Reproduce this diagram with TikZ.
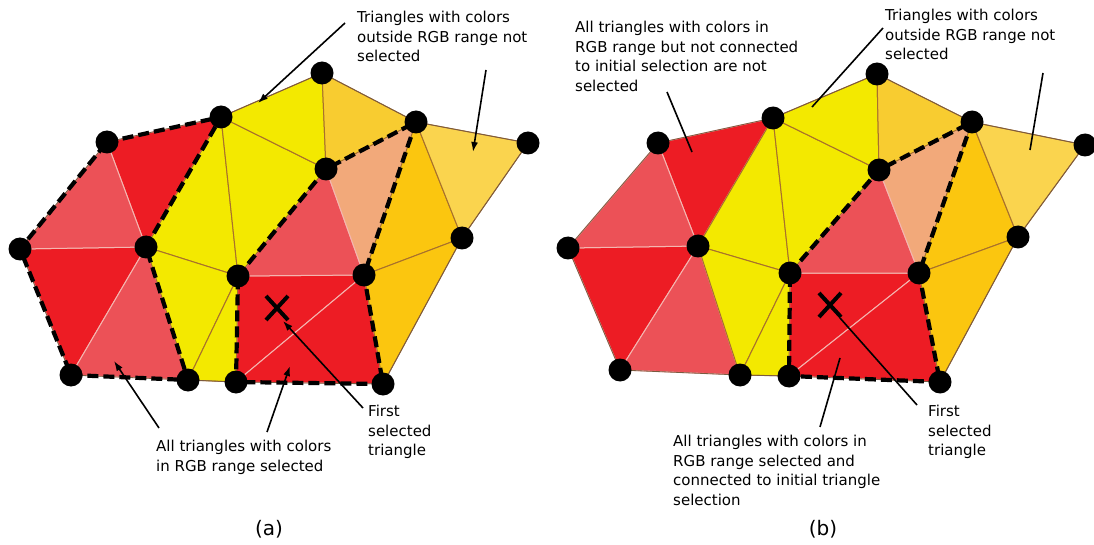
\documentclass[tikz,border=0pt]{standalone}
\usepackage{fontspec}
\setmainfont{DejaVu Sans}
\usetikzlibrary{arrows.meta}
\definecolor{cRed}{HTML}{ED1C24}
\definecolor{cLRed}{HTML}{EC5157}
\definecolor{cYel}{HTML}{F3E900}
\definecolor{cOr}{HTML}{FBC60F}
\definecolor{cGold}{HTML}{F8CC30}
\definecolor{cLOr}{HTML}{FAD44E}
\definecolor{cSal}{HTML}{F2A97A}
\definecolor{eLight}{HTML}{F4B6B0}
\definecolor{eBrown}{HTML}{A8702C}
\definecolor{eOut}{HTML}{7A5A40}
\tikzset{
  vdot/.style={circle,fill=black,inner sep=0pt,minimum size=23pt},
  txt/.style={align=left,inner sep=0pt,anchor=north west,font=\fontsize{15}{19.5}\selectfont},
  lbl/.style={inner sep=0pt,font=\fontsize{20}{24}\selectfont},
  selbound/.style={line width=4.2pt,dash pattern=on 11pt off 5pt,black},
  arr/.style={line width=1.6pt,-{Latex[length=10pt,width=7pt]}},
  pline/.style={line width=1.6pt},
  xmark/.style={line width=4pt},
  tri/.style={line width=1pt}
}
\newcommand\setverts[2]{%
  \foreach \n/\x/\y in {#2}{\coordinate (#1\n) at (\x,\y);}}
\newcommand\meshfill[1]{%
  \foreach \p/\q/\r/\c in {A/B/G/cRed, F/G/L/cRed, H/J/N/cRed, J/N/O/cRed,
      A/F/G/cLRed, G/L/M/cLRed, H/I/J/cLRed, I/D/J/cSal}{%
    \filldraw[tri,fill=\c,draw=eLight] (#1\p) -- (#1\q) -- (#1\r) -- cycle;}
  \foreach \p/\q/\r/\c in {B/G/H/cYel, B/H/I/cYel, B/C/I/cYel, G/M/H/cYel, M/N/H/cYel,
      C/D/I/cGold, D/J/K/cOr, J/K/O/cOr, D/E/K/cLOr}{%
    \filldraw[tri,fill=\c,draw=eBrown] (#1\p) -- (#1\q) -- (#1\r) -- cycle;}
  \draw[line width=0.8pt,eOut] (#1A) -- (#1B) -- (#1C) -- (#1D) -- (#1E) -- (#1K) -- (#1O)
      -- (#1N) -- (#1M) -- (#1L) -- (#1F) -- cycle;}
\newcommand\meshdots[1]{%
  \foreach \n in {A,B,C,D,E,F,G,H,I,J,K,L,M,N,O}{\node[vdot] (#1dot\n) at (#1\n) {};}}
\begin{document}
\begin{tikzpicture}[x=1pt,y=-1pt]
\useasboundingbox (0,0) rectangle (1094,545);
% ---------- panel (a)
\setverts{a}{A/107/142, B/221/117, C/322/73, D/416/122, E/528/143, F/20/249, G/146/247,
  H/238/276, I/326/169, J/364/275, K/462/238, L/71/375, M/188/380, N/236/382, O/383/384}
\meshfill{a}
\draw[selbound] (aA) -- (aB) -- (aG) -- (aM) -- (aL) -- (aF) -- cycle;
\draw[selbound] (aH) -- (aI) -- (aD) -- (aJ) -- (aO) -- (aN) -- cycle;
\meshdots{a}
\coordinate (aX) at (277,308);
\draw[xmark] ([shift={(-11,-12)}]aX) -- ([shift={(11,12)}]aX);
\draw[xmark] ([shift={(-11,12)}]aX) -- ([shift={(11,-12)}]aX);
\node[txt] (aTop) at (357,11) {Triangles with colors\\outside RGB range not\\selected};
\node[txt] (aBot) at (156,440) {All triangles with colors\\in RGB range selected};
\node[txt] (aFirst) at (368,405) {First\\selected\\triangle};
\node[lbl] (aLab) at (269,529) {(a)};
\coordinate (a1s) at (345,23);  \coordinate (a1e) at (258,103);
\coordinate (a2s) at (486,70);  \coordinate (a2e) at (473,152);
\coordinate (a3s) at (159,428); \coordinate (a3e) at (114,361);
\coordinate (a4s) at (267,432); \coordinate (a4e) at (290,366);
\coordinate (a5s) at (363,408); \coordinate (a5e) at (283,321);
\draw[arr] (a1s) -- (a1e);
\draw[arr] (a2s) -- (a2e);
\draw[arr] (a3s) -- (a3e);
\draw[arr] (a4s) -- (a4e);
\draw[arr] (a5s) -- (a5e);
% ---------- panel (b)
\setverts{b}{A/658/143, B/773/118, C/877/74, D/972/122, E/1085/145, F/568/248, G/698/246,
  H/790/273, I/879/170, J/919/273, K/1018/237, L/620/370, M/740/375, N/789/376, O/940/382}
\meshfill{b}
\draw[selbound] (bH) -- (bI) -- (bD) -- (bJ) -- (bO) -- (bN) -- cycle;
\meshdots{b}
\coordinate (bX) at (830,305);
\draw[xmark] ([shift={(-11,-12)}]bX) -- ([shift={(11,12)}]bX);
\draw[xmark] ([shift={(-11,12)}]bX) -- ([shift={(11,-12)}]bX);
\node[txt] (bTopL) at (575,21) {All triangles with colors in\\RGB range but not connected\\to initial selection are not\\selected};
\node[txt] (bTopR) at (885,9) {Triangles with colors\\outside RGB range not\\selected};
\node[txt] (bBot) at (673,435) {All triangles with colors in\\RGB range selected and\\connected to initial triangle\\selection};
\node[txt] (bFirst) at (928,405) {First\\selected\\triangle};
\node[lbl] (bLab) at (823,529) {(b)};
\coordinate (b1s) at (667,92);   \coordinate (b1e) at (692,152);
\coordinate (b2s) at (883,28);   \coordinate (b2e) at (812,107);
\coordinate (b3s) at (1043,73);  \coordinate (b3e) at (1030,150);
\coordinate (b4s) at (820,427);  \coordinate (b4e) at (840,358);
\coordinate (b5s) at (917,405);  \coordinate (b5e) at (840,318);
\draw[pline] (b1s) -- (b1e);
\draw[pline] (b2s) -- (b2e);
\draw[pline] (b3s) -- (b3e);
\draw[pline] (b4s) -- (b4e);
\draw[pline] (b5s) -- (b5e);
\end{tikzpicture}
\end{document}
